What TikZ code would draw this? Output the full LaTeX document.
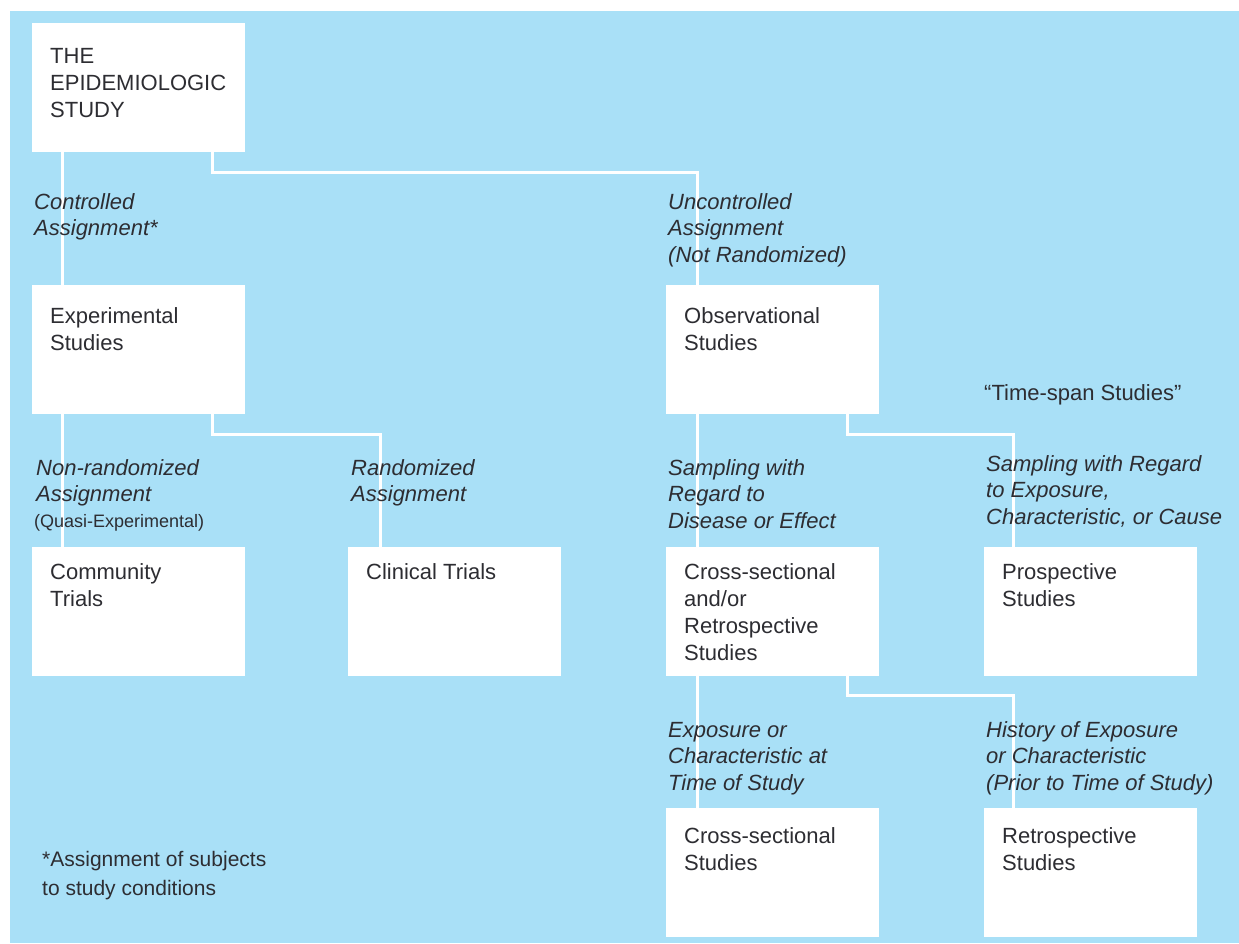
\documentclass[tikz,border=0pt]{standalone}
\usepackage{fontspec}
\setmainfont{Liberation Sans}
\definecolor{bgblue}{RGB}{169,224,247}
\definecolor{txt}{RGB}{45,45,50}
\newcommand{\mlines}[1]{\begin{tabular}[t]{@{}l@{}}#1\end{tabular}}
\begin{document}
\begin{tikzpicture}[x=1pt,y=-1pt,
  box/.style={fill=white,draw=none,minimum width=213pt,minimum height=129pt,anchor=north west,inner sep=0pt},
  boxtext/.style={anchor=base west,inner sep=0pt,text=txt,font=\fontsize{22}{27}\selectfont},
  lbl/.style={anchor=base west,inner sep=0pt,text=txt,font=\fontsize{22}{26.5}\selectfont\itshape},
  conn/.style={draw=white,line width=3pt}]
\useasboundingbox (0,0) rectangle (1239,943);
\fill[bgblue] (10,11) rectangle (1239,943);
% boxes
\node[box] (root) at (32,23) {};
\node[box] (exp) at (32,285) {};
\node[box] (obs) at (666,285) {};
\node[box] (comm) at (32,547) {};
\node[box] (clin) at (348,547) {};
\node[box] (csr) at (666,547) {};
\node[box] (pros) at (984,547) {};
\node[box] (cs) at (666,808) {};
\node[box] (retro) at (984,808) {};
% connectors
\draw[conn] ([xshift=30pt]root.south west) -- ([xshift=30pt]exp.north west);
\draw[conn] ([xshift=180pt]root.south west) -- ++(0,20) -| ([xshift=31pt]obs.north west);
\draw[conn] ([xshift=30pt]exp.south west) -- ([xshift=30pt]comm.north west);
\draw[conn] ([xshift=180pt]exp.south west) -- ++(0,20) -| ([xshift=32pt]clin.north west);
\draw[conn] ([xshift=31pt]obs.south west) -- ([xshift=31pt]csr.north west);
\draw[conn] ([xshift=181pt]obs.south west) -- ++(0,20) -| ([xshift=29pt]pros.north west);
\draw[conn] ([xshift=31pt]csr.south west) -- ([xshift=31pt]cs.north west);
\draw[conn] ([xshift=181pt]csr.south west) -- ++(0,19) -| ([xshift=29pt]retro.north west);
% box texts
\node[boxtext] (troot) at (50,63) {\mlines{THE\\EPIDEMIOLOGIC\\STUDY}};
\node[boxtext] (texp) at (50,323) {\mlines{Experimental\\Studies}};
\node[boxtext] (tobs) at (684,323) {\mlines{Observational\\Studies}};
\node[boxtext] (tcomm) at (50,579) {\mlines{Community\\Trials}};
\node[boxtext] (tclin) at (366,579) {Clinical Trials};
\node[boxtext] (tcsr) at (684,579) {\mlines{Cross-sectional\\and/or\\Retrospective\\Studies}};
\node[boxtext] (tpros) at (1002,579) {\mlines{Prospective\\Studies}};
\node[boxtext] (tcs) at (684,843) {\mlines{Cross-sectional\\Studies}};
\node[boxtext] (tretro) at (1002,843) {\mlines{Retrospective\\Studies}};
% labels
\node[lbl] (l1) at (34,209) {\mlines{Controlled\\Assignment*}};
\node[lbl] (l2) at (668,209) {\mlines{Uncontrolled\\Assignment\\(Not Randomized)}};
\node[lbl] (l3) at (36,475) {\mlines{Non-randomized\\Assignment}};
\node[anchor=base west,inner sep=0pt,text=txt,font=\fontsize{18}{22}\selectfont] (l3b) at (34,527) {(Quasi-Experimental)};
\node[lbl] (l4) at (351,475) {\mlines{Randomized\\Assignment}};
\node[lbl] (l5) at (668,475) {\mlines{Sampling with\\Regard to\\Disease or Effect}};
\node[anchor=base west,inner sep=0pt,text=txt,font=\fontsize{22}{26.5}\selectfont] (l6) at (984,400) {“Time-span Studies”};
\node[lbl] (l7) at (986,471) {\mlines{Sampling with Regard\\to Exposure,\\Characteristic, or Cause}};
\node[lbl] (l8) at (668,737) {\mlines{Exposure or\\Characteristic at\\Time of Study}};
\node[lbl] (l9) at (986,737) {\mlines{History of Exposure\\or Characteristic\\(Prior to Time of Study)}};
\node[anchor=base west,inner sep=0pt,text=txt,font=\fontsize{21}{29}\selectfont] (fn) at (42,866) {\mlines{*Assignment of subjects\\to study conditions}};
\end{tikzpicture}
\end{document}
